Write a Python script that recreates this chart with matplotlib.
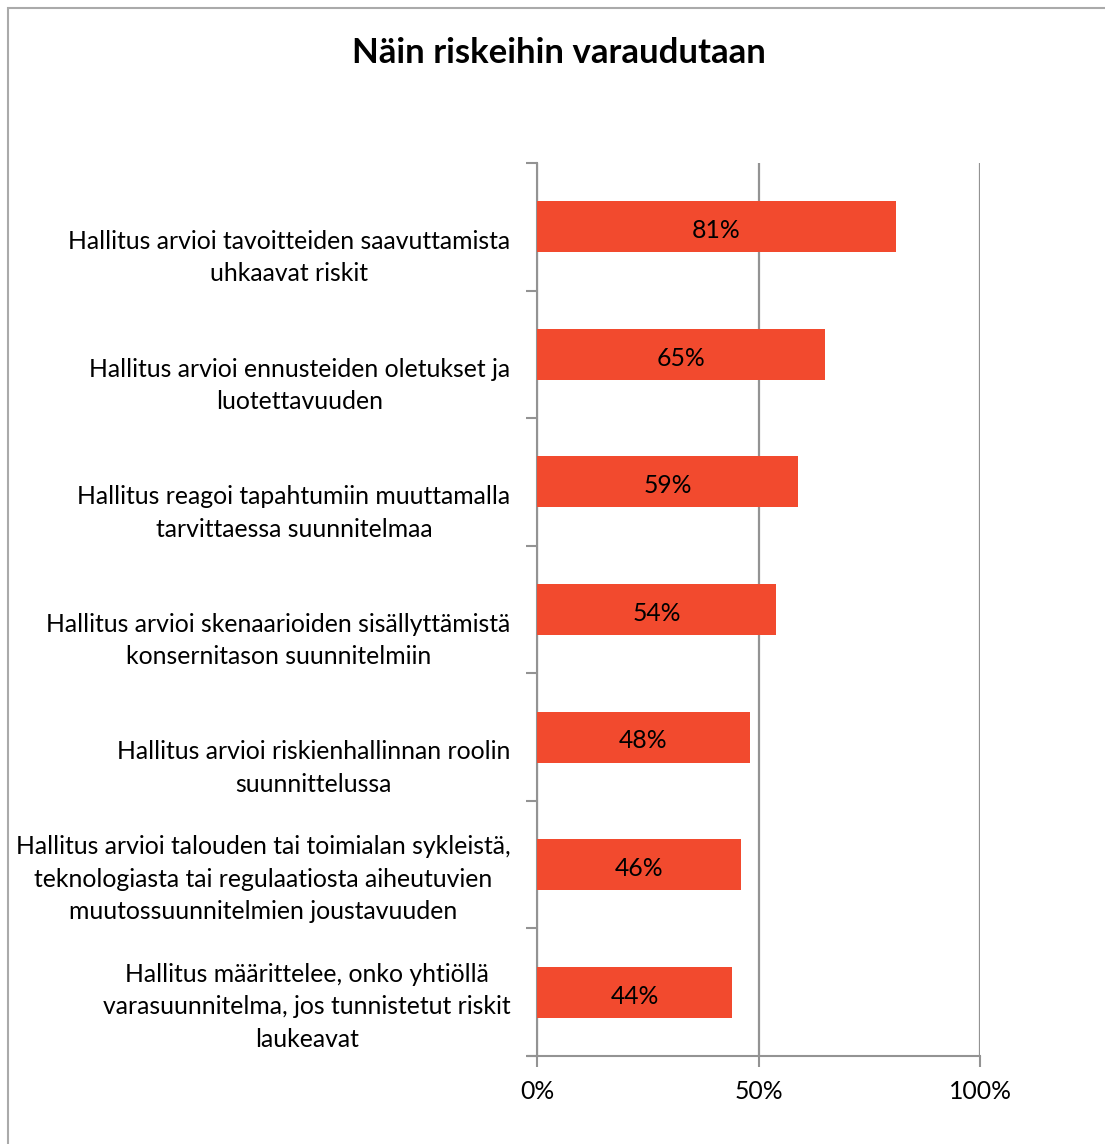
import matplotlib.pyplot as plt
from matplotlib.patches import Rectangle

# values in percent, top to bottom
labels = [
    "Hallitus arvioi tavoitteiden saavuttamista\nuhkaavat riskit",
    "Hallitus arvioi ennusteiden oletukset ja\nluotettavuuden",
    "Hallitus reagoi tapahtumiin muuttamalla\ntarvittaessa suunnitelmaa",
    "Hallitus arvioi skenaarioiden sisällyttämistä\nkonsernitason suunnitelmiin",
    "Hallitus arvioi riskienhallinnan roolin\nsuunnittelussa",
    "Hallitus arvioi talouden tai toimialan sykleistä,\nteknologiasta tai regulaatiosta aiheutuvien\nmuutossuunnitelmien joustavuuden",
    "Hallitus määrittelee, onko yhtiöllä\nvarasuunnitelma, jos tunnistetut riskit\nlaukeavat",
]
values = [81, 65, 59, 54, 48, 46, 44]
xticks = [0, 50, 100]

bar_color = "#F24A2E"
grey = "#939393"
fs = 17.8

plt.rcParams['font.family'] = ['Lato', 'DejaVu Sans']

fig = plt.figure(figsize=(11.05, 11.44), dpi=100)
fig.patches.append(Rectangle((8 / 1105, -0.01), 1.1, 1 - 8 / 1144 + 0.01,
                             transform=fig.transFigure, fill=False,
                             edgecolor="#aaaaaa", linewidth=1.5))

ax = fig.add_axes([537 / 1105, 1 - 1056 / 1144, 443 / 1105, (1056 - 163) / 1144])
n = len(values)
ypos = list(range(n))
ax.barh(ypos, values, height=0.4, color=bar_color, zorder=3)
for y, v in zip(ypos, values):
    ax.text(v / 2, y + 0.03, f"{v}%", ha="center", va="center", fontsize=fs, color="black", zorder=4)

ax.set_ylim(n - 0.5, -0.5)
ax.set_xlim(0, 100)
ax.set_xticks(xticks)
ax.set_xticklabels([f"{t}%" for t in xticks], fontsize=fs)
ax.tick_params(axis="x", length=8, color=grey, width=1.5, pad=9)

# category labels drawn by hand: bottom-anchored, lines centred within the block
ax.set_yticks([i - 0.5 for i in range(n + 1)])
ax.set_yticklabels([])
ax.tick_params(axis="y", length=8, color=grey, width=1.5)
for y, lab in zip(ypos, labels):
    ax.text(-0.06, y + 0.46, lab, transform=ax.get_yaxis_transform(), ha="right", va="bottom",
            multialignment="center", fontsize=fs, linespacing=1.5)

for s in ["top", "right"]:
    ax.spines[s].set_visible(False)
for s in ["left", "bottom"]:
    ax.spines[s].set_color(grey)
    ax.spines[s].set_linewidth(1.5)
ax.spines["bottom"].set_bounds(-2, 100)
ax.set_xlim(0, 100)
ax.xaxis.grid(True, color=grey, linewidth=1.6, zorder=0)

fig.text(559 / 1105, 1 - 53 / 1144, "Näin riskeihin varaudutaan", ha="center", va="center",
         fontsize=25, fontweight="bold")

fig.savefig("out.png", dpi=100)
